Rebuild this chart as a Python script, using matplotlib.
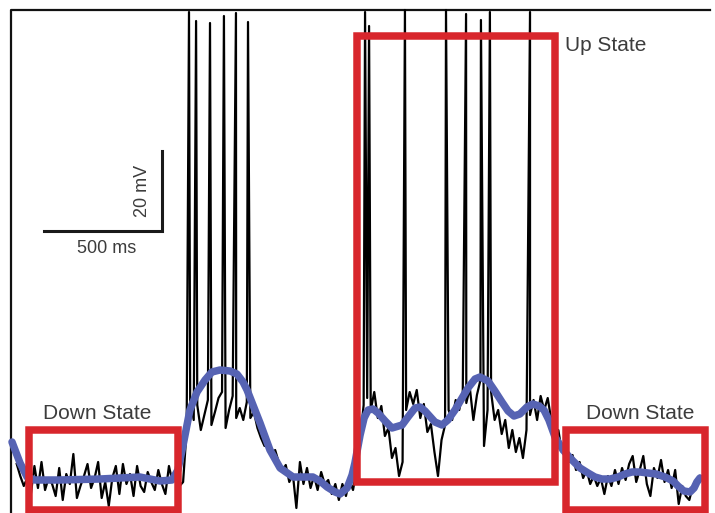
import numpy as np
import matplotlib
matplotlib.use("Agg")
import matplotlib.pyplot as plt
from matplotlib.patches import Rectangle

plt.rcParams['font.family'] = ['Liberation Sans', 'DejaVu Sans']

# membrane potential (mV), sampled every 15 ms starting at 20 ms
dt = 15
t_start = 20
vm = [-66.5, -69.5, -72, -70, -74, -67, -72.5, -66, -73, -70,
      -71.5, -74.5, -67.5, -75.5, -69, -71.5, -64, -75, -72, -69.5,
      -66.5, -72.5, -70, -66, -75, -71, -77, -70, -67, -74,
      -66.5, -71.5, -69, -74.5, -67, -72, -73.5, -68.5, -71, -73,
      -68, -71.5, -74, -67, -71, -70, -72, -71, -58,
      -50.5, -55.5, -51.75, -58, -54.25, -50.5, -56.75, -53.5, -50, -48.5, -57.5,
      -53, -49.5, -55, -52.5, -55.5, -51, -55, -53.5, -57.5, -60,
      -62, -60.5, -64.5, -63, -66, -68.25, -66.75, -71, -69, -77.5,
      -66, -71.5, -67.5, -72.5, -69.5, -73, -68.5, -71.5, -70.5, -74,
      -71.5, -75.5, -71.5, -74.5, -70.5, -73, -68, -60.5, -51.75, -50,
      -53, -48.5, -55, -52, -59.5, -57.5, -65, -62.5, -69.5, -66,
      -53, -48.5, -51.5, -48, -55, -51.5, -58.5, -56.5, -63.5, -69.5,
      -60.5, -56.75, -53, -55.5, -50.5, -53, -48.5, -51.25, -47.5, -55.5,
      -49.25, -45.5, -62, -53, -48.5, -55.5, -53, -59, -55.5, -62.5,
      -58, -63.5, -60, -65, -58, -54.25, -50.5, -55.5, -49.5, -53,
      -50, -55.5, -60.5, -58, -63.5, -62, -66, -64.25, -68, -66,
      -70, -68, -71.5, -69.5, -72, -70, -74, -69.5, -72, -68,
      -71.5, -67.5, -70.5, -66.5, -64.5, -71, -68, -64.5, -71.5, -74.5,
      -67.5, -70, -65.5, -71, -68, -72.5, -68, -76.5, -72, -74.5,
      -75.5, -72, -70.5, -69.5]

# action potentials: time (ms) and peak (mV)
spike_t = [750, 780, 839, 898, 949, 1000,
           1496, 1513, 1665, 1839, 1924, 1987, 2025, 2195]
spike_v = [46.5, 44.25, 43.75, 45.5, 46.25, 44,
           46.5, 43, 47, 47, 46, 44.5, 46.5, 46.5]

# smoothed potential (blue)
smooth_t = [0, 34, 64, 97, 203, 373, 542, 627, 678, 703, 725, 754, 784, 818, 847,
            881, 924, 953, 979, 996, 1021, 1051, 1093, 1136, 1191, 1275, 1305, 1335,
            1369, 1390, 1420, 1441, 1453, 1475, 1492, 1509, 1530, 1551, 1581, 1610,
            1653, 1678, 1708, 1729, 1750, 1792, 1822, 1847, 1877, 1907, 1932, 1962,
            1983, 2017, 2046, 2076, 2102, 2127, 2152, 2182, 2207, 2233, 2254, 2275,
            2301, 2335, 2373, 2407, 2441, 2470, 2500, 2534, 2568, 2597, 2627, 2661,
            2695, 2729, 2767, 2801, 2822, 2847, 2873, 2890, 2902, 2915]
smooth_v = [-61, -66.25, -69.75, -70.5, -70.5, -70.25, -69.75, -70.75, -70.5, -68,
            -61.75, -53, -48.5, -45.5, -43.5, -43, -43.25, -44, -46, -48, -51.75,
            -56.25, -63, -67.5, -69.75, -69.75, -70.75, -72.25, -73.5, -74, -72.5,
            -69.25, -66.25, -59.25, -55, -53, -52.75, -53.75, -55.75, -57.5, -56.75,
            -54.75, -52.5, -52.25, -53.25, -56, -56.75, -55.5, -53, -50, -47.5,
            -45.25, -44.75, -45.75, -48.25, -51, -53.25, -54.5, -54, -52.25, -51.5,
            -52, -53, -55.5, -59.75, -63, -65.5, -67.5, -68.75, -69.75, -70.25,
            -70.25, -69.75, -69, -68.5, -68.5, -68.75, -69, -69.75, -70.75, -72,
            -73.25, -73.5, -72.5, -71, -70]

# state windows: (start ms, end ms, low mV, high mV)
boxes = [(70, 703, -78, -58), (1462, 2301, -71, 40.5), (2347, 2936, -78, -58)]
box_labels = ["Down State", "Up State", "Down State"]

base_t = t_start + dt * np.arange(len(vm))
t = np.concatenate([base_t, spike_t])
v = np.concatenate([vm, spike_v])
order = np.argsort(t)
t = t[order]
v = v[order]

fig = plt.figure(figsize=(7.15, 5.13), dpi=100)
ax = fig.add_axes([0, 0, 1, 1])
ax.set_xlim(-50.85, 2978.8)
ax.set_ylim(-78.75, 49.5)
ax.axis("off")

ax.plot(t, v, color="black", lw=1.6, zorder=2)
ax.plot(smooth_t, smooth_v, color="#5663b3", lw=5.4, solid_capstyle="round",
        solid_joinstyle="round", zorder=3)

for (x0, x1, y0, y1) in boxes:
    ax.add_patch(Rectangle((x0, y0), x1 - x0, y1 - y0, fill=False,
                           edgecolor="#d8262c", lw=5.4, zorder=4))

ax.text(360, -53.75, box_labels[0], ha="center", va="center", fontsize=15, color="#3c3c3c")
ax.text(2343, 38.25, box_labels[1], ha="left", va="center", fontsize=15, color="#3c3c3c")
ax.text(2661, -53.75, box_labels[2], ha="center", va="center", fontsize=15, color="#3c3c3c")

# scale bar
ax.plot([136, 636, 636], [-8.25, -8.25, 11.75], color="#1a1a1a", lw=2.2,
        solid_joinstyle="miter", zorder=3)
ax.text(403, -12.5, "500 ms", ha="center", va="center", fontsize=13, color="#3c3c3c")
ax.text(551, 1.75, "20 mV", ha="center", va="center", rotation=90, fontsize=13, color="#3c3c3c")

# frame
ax.plot([-4, -4, 2957], [-80, 47, 47], color="#111111", lw=1.6, zorder=1)

fig.savefig("out.png", dpi=100)
